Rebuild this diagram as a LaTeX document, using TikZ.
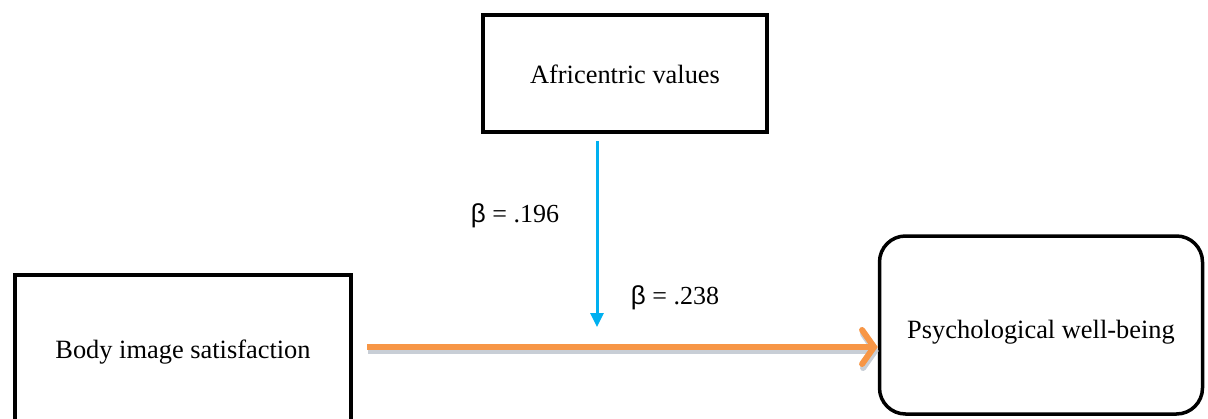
\documentclass[tikz,border=0pt]{standalone}
\usepackage{fontspec}
\setmainfont{Liberation Serif}
\newfontfamily\betafont{Liberation Sans}
\usetikzlibrary{arrows.meta}
\definecolor{skyblue}{RGB}{0,176,240}
\definecolor{arrorange}{RGB}{247,150,70}
\definecolor{shadowgray}{RGB}{200,206,214}
\newcommand{\basetext}[2]{\smash{\raisebox{#1}{#2}}}
\tikzset{
  varbox/.style={draw=black, line width=4pt, inner sep=0pt, align=center,
    font=\fontsize{26.4}{30}\selectfont},
  outbox/.style={varbox, line width=3.5pt, rounded corners=26pt},
  betalabel/.style={inner sep=0pt, font=\fontsize{26}{30}\selectfont},
}
\begin{document}
\begin{tikzpicture}[x=1pt,y=-1pt]
\useasboundingbox (0,0) rectangle (1208,418);
\fill[white] (0,0) rectangle (1208,418);
% boxes
\node[varbox, minimum width=284pt, minimum height=117pt] (afr) at (625,73.5) {\basetext{-9.5pt}{Africentric values}};
\node[varbox, minimum width=336pt, minimum height=150pt] (body) at (183,350) {\basetext{-8pt}{Body image satisfaction}};
\node[outbox, minimum width=323pt, minimum height=178pt] (pwb) at (1041,325) {\basetext{-13pt}{Psychological well-being}};
% moderation arrow
\coordinate (tip) at (597,327);
\draw[skyblue, line width=3pt, -{Triangle[length=14pt,width=13pt]}, shorten <=7pt]
  (afr.south -| tip) -- (tip);
% main path with shadow
\coordinate (start) at (367,347);
\coordinate (end) at (pwb.west |- start);
\draw[shadowgray, line width=6pt, -{Straight Barb[length=12pt,width=34pt,line cap=round]}]
  ([shift={(1pt,-4pt)}]start) -- ([shift={(1pt,-4pt)}]end);
\draw[arrorange, line width=6pt, -{Straight Barb[length=12pt,width=34pt,line cap=round]}]
  (start) -- (end);
% labels
\node[betalabel] (b1) at (515,216) {{\betafont β} = .196};
\node[betalabel] (b2) at (675,298) {{\betafont β} = .238};
\end{tikzpicture}
\end{document}
